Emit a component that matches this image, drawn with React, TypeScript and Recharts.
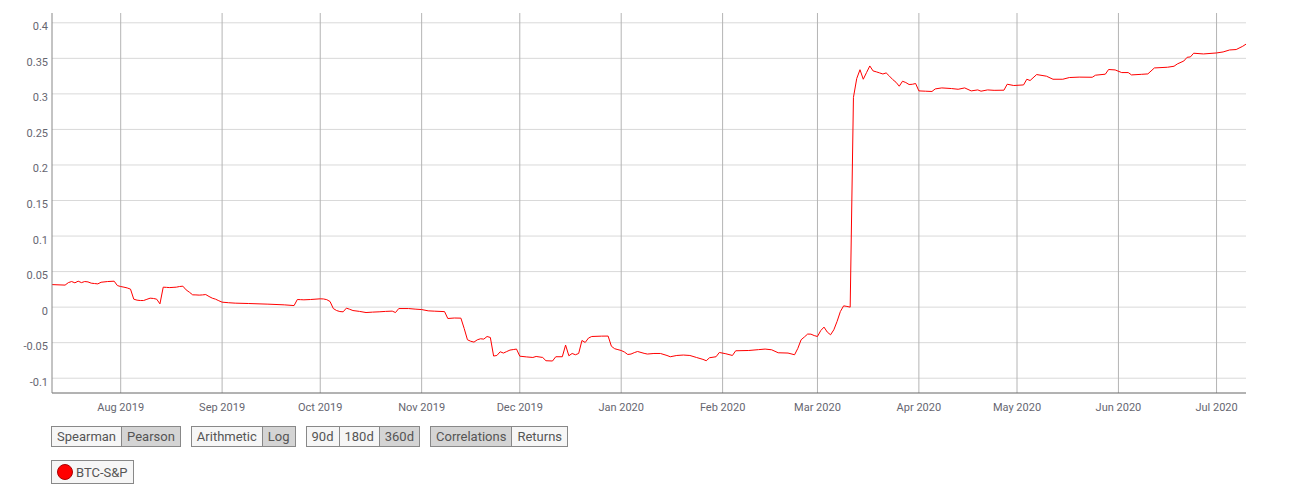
import React from 'react';
import { LineChart, Line, XAxis, YAxis, CartesianGrid } from 'recharts';

const dates = [
  '2019-07-11','2019-07-15','2019-07-16','2019-07-17','2019-07-18','2019-07-19','2019-07-20','2019-07-21','2019-07-22','2019-07-23',
  '2019-07-24','2019-07-25','2019-07-26','2019-07-28','2019-07-30','2019-07-31','2019-08-01','2019-08-02','2019-08-03','2019-08-04',
  '2019-08-05','2019-08-06','2019-08-07','2019-08-08','2019-08-09','2019-08-10','2019-08-11','2019-08-12','2019-08-13','2019-08-14',
  '2019-08-15','2019-08-16','2019-08-17','2019-08-18','2019-08-19','2019-08-20','2019-08-21','2019-08-22','2019-08-23','2019-08-24',
  '2019-08-25','2019-08-26','2019-08-27','2019-08-28','2019-08-29','2019-08-30','2019-08-31','2019-09-01','2019-09-03','2019-09-05',
  '2019-09-09','2019-09-15','2019-09-20','2019-09-23','2019-09-24','2019-09-25','2019-09-26','2019-09-28','2019-10-01','2019-10-02',
  '2019-10-03','2019-10-04','2019-10-05','2019-10-06','2019-10-07','2019-10-08','2019-10-09','2019-10-10','2019-10-11','2019-10-13',
  '2019-10-15','2019-10-17','2019-10-19','2019-10-21','2019-10-23','2019-10-24','2019-10-25','2019-10-28','2019-10-30','2019-11-01',
  '2019-11-03','2019-11-05','2019-11-08','2019-11-09','2019-11-11','2019-11-13','2019-11-14','2019-11-15','2019-11-16','2019-11-17',
  '2019-11-18','2019-11-19','2019-11-20','2019-11-21','2019-11-22','2019-11-23','2019-11-24','2019-11-25','2019-11-26','2019-11-27',
  '2019-11-28','2019-11-29','2019-11-30','2019-12-01','2019-12-03','2019-12-05','2019-12-06','2019-12-08','2019-12-09','2019-12-11',
  '2019-12-12','2019-12-14','2019-12-15','2019-12-16','2019-12-17','2019-12-18','2019-12-19','2019-12-20','2019-12-21','2019-12-22',
  '2019-12-23','2019-12-26','2019-12-28','2019-12-29','2019-12-30','2019-12-31','2020-01-01','2020-01-02','2020-01-03','2020-01-04',
  '2020-01-05','2020-01-06','2020-01-08','2020-01-09','2020-01-11','2020-01-13','2020-01-15','2020-01-16','2020-01-18','2020-01-20',
  '2020-01-22','2020-01-24','2020-01-26','2020-01-27','2020-01-28','2020-01-30','2020-01-31','2020-02-02','2020-02-04','2020-02-05',
  '2020-02-09','2020-02-12','2020-02-14','2020-02-16','2020-02-18','2020-02-21','2020-02-23','2020-02-24','2020-02-25','2020-02-26',
  '2020-02-27','2020-02-28','2020-02-29','2020-03-01','2020-03-02','2020-03-03','2020-03-04','2020-03-05','2020-03-06','2020-03-07',
  '2020-03-08','2020-03-09','2020-03-10','2020-03-11','2020-03-12','2020-03-13','2020-03-14','2020-03-15','2020-03-16','2020-03-17',
  '2020-03-18','2020-03-19','2020-03-20','2020-03-21','2020-03-22','2020-03-23','2020-03-24','2020-03-25','2020-03-26','2020-03-27',
  '2020-03-28','2020-03-29','2020-03-30','2020-03-31','2020-04-01','2020-04-03','2020-04-05','2020-04-06','2020-04-08','2020-04-11',
  '2020-04-13','2020-04-15','2020-04-17','2020-04-19','2020-04-20','2020-04-22','2020-04-24','2020-04-27','2020-04-28','2020-04-30',
  '2020-05-03','2020-05-04','2020-05-05','2020-05-07','2020-05-10','2020-05-12','2020-05-15','2020-05-17','2020-05-20','2020-05-24',
  '2020-05-25','2020-05-28','2020-05-29','2020-05-31','2020-06-02','2020-06-04','2020-06-05','2020-06-08','2020-06-10','2020-06-12',
  '2020-06-16','2020-06-18','2020-06-19','2020-06-21','2020-06-22','2020-06-23','2020-06-24','2020-06-27','2020-07-01','2020-07-03',
  '2020-07-05','2020-07-07','2020-07-09','2020-07-10',
];

const btcSpCorr = [
  0.0317,0.031,0.0345,0.036,0.0342,0.0365,0.0345,0.036,0.0355,0.0337,
  0.0332,0.0327,0.035,0.036,0.0365,0.0303,0.029,0.0281,0.027,0.0253,
  0.0112,0.0098,0.0093,0.0093,0.011,0.0126,0.0122,0.0112,0.0046,0.0281,
  0.0278,0.0275,0.0278,0.0281,0.029,0.0295,0.0243,0.021,0.0173,0.0172,
  0.0169,0.0172,0.0177,0.015,0.0126,0.0112,0.009,0.007,0.0062,0.0056,
  0.0051,0.0042,0.0032,0.0022,0.0107,0.0105,0.0103,0.0107,0.0117,0.0115,
  0.0105,0.0079,-0.002,-0.0048,-0.0062,-0.0066,-0.0014,-0.003,-0.0048,-0.006,
  -0.0076,-0.007,-0.0066,-0.006,-0.0056,-0.0076,-0.002,-0.002,-0.0028,-0.0034,
  -0.0052,-0.0057,-0.0063,-0.016,-0.0153,-0.0155,-0.03,-0.0459,-0.048,-0.0492,
  -0.046,-0.0445,-0.045,-0.0413,-0.0427,-0.0688,-0.068,-0.0628,-0.0646,-0.0625,
  -0.0604,-0.0597,-0.059,-0.069,-0.07,-0.0708,-0.0694,-0.0708,-0.0754,-0.0758,
  -0.0698,-0.0698,-0.0534,-0.0684,-0.0652,-0.067,-0.0652,-0.0469,-0.0497,-0.0435,
  -0.0413,-0.0408,-0.0407,-0.055,-0.0585,-0.0598,-0.061,-0.0632,-0.0666,-0.066,
  -0.064,-0.0624,-0.065,-0.066,-0.0652,-0.0652,-0.068,-0.0698,-0.068,-0.0674,
  -0.068,-0.0708,-0.0735,-0.0754,-0.0712,-0.0698,-0.0638,-0.0656,-0.068,-0.0614,
  -0.061,-0.0598,-0.059,-0.06,-0.0642,-0.0646,-0.067,-0.058,-0.0459,-0.042,
  -0.0379,-0.038,-0.04,-0.0413,-0.033,-0.0281,-0.0351,-0.0389,-0.0319,-0.02,
  -0.0062,0.0018,0.001,0.0,0.295,0.3216,0.334,0.3206,0.33,0.3393,
  0.3323,0.331,0.3295,0.328,0.3295,0.325,0.3202,0.3164,0.3108,0.3178,
  0.316,0.3132,0.3135,0.3146,0.3042,0.3038,0.3034,0.307,0.3084,0.3075,
  0.3065,0.3084,0.3042,0.3056,0.3038,0.3056,0.305,0.3052,0.3136,0.3118,
  0.3126,0.3206,0.3188,0.3272,0.3249,0.3206,0.3206,0.323,0.3236,0.3234,
  0.3263,0.3277,0.3343,0.3337,0.33,0.33,0.3267,0.3275,0.3281,0.3365,
  0.3375,0.3389,0.3421,0.3463,0.3515,0.352,0.3572,0.3562,0.3576,0.359,
  0.3618,0.3624,0.367,0.37,
];

const monthTicks = [
  '2019-08-01','2019-09-01','2019-10-01','2019-11-01','2019-12-01','2020-01-01',
  '2020-02-01','2020-03-01','2020-04-01','2020-05-01','2020-06-01','2020-07-01',
];
const monthLabels = [
  'Aug 2019','Sep 2019','Oct 2019','Nov 2019','Dec 2019','Jan 2020',
  'Feb 2020','Mar 2020','Apr 2020','May 2020','Jun 2020','Jul 2020',
];

const yTicks = [-0.1, -0.05, 0, 0.05, 0.1, 0.15, 0.2, 0.25, 0.3, 0.35, 0.4];
const yLabels = ['-0.1', '-0.05', '0', '0.05', '0.1', '0.15', '0.2', '0.25', '0.3', '0.35', '0.4'];
const yDomain = [-0.1208, 0.4138];

const buttonGroups = [
  ['Spearman', 'Pearson'],
  ['Arithmetic', 'Log'],
  ['90d', '180d', '360d'],
  ['Correlations', 'Returns'],
];
const selectedButtons = ['Pearson', 'Log', '360d', 'Correlations'];

const seriesName = 'BTC-S&P';

const toTs = (s: string) => Date.parse(s + 'T00:00:00Z');

const data = dates.map((d, i) => ({ t: toTs(d), v: btcSpCorr[i] }));
const xTicks = monthTicks.map(toTs);
const labelFor = (ts: number) => {
  const i = xTicks.indexOf(ts);
  return i >= 0 ? monthLabels[i] : '';
};
const yLabelFor = (v: number) => {
  const i = yTicks.findIndex((t) => Math.abs(t - v) < 1e-9);
  return i >= 0 ? yLabels[i] : String(v);
};

const FONT = 'Roboto, "Noto Sans", sans-serif';

const YTick = (props: any) => {
  const { x, y, payload } = props;
  return (
    <text x={x} y={y + 4} textAnchor="end" dominantBaseline="central" fill="#666670" fontSize={11} fontFamily={FONT}>
      {yLabelFor(payload.value)}
    </text>
  );
};

const XTick = (props: any) => {
  const { x, y, payload } = props;
  return (
    <text x={x} y={y + 14} textAnchor="middle" dominantBaseline="central" fill="#666670" fontSize={11} fontFamily={FONT}>
      {labelFor(payload.value)}
    </text>
  );
};

export default function App() {
  return (
    <div style={{ position: 'absolute', left: 0, top: 0, width: 1293, height: 491, background: '#fff', fontFamily: FONT }}>
      <LineChart width={1293} height={420} data={data} margin={{ top: 13, right: 47, bottom: 0, left: 0 }}>
        <CartesianGrid vertical={false} stroke="#d9d9d9" horizontalValues={yTicks} />
        <CartesianGrid horizontal={false} stroke="#b4b4b4" verticalValues={xTicks} />
        <XAxis
          dataKey="t"
          type="number"
          scale="time"
          domain={['dataMin', 'dataMax']}
          ticks={xTicks}
          height={27}
          tickLine={false}
          tickSize={0}
          tickMargin={0}
          axisLine={{ stroke: '#666', strokeWidth: 1 }}
          tick={<XTick />}
          interval={0}
        />
        <YAxis
          type="number"
          domain={yDomain}
          ticks={yTicks}
          width={52}
          tickLine={false}
          tickSize={4}
          tickMargin={0}
          axisLine={{ stroke: '#888', strokeWidth: 1 }}
          tick={<YTick />}
          interval={0}
          allowDataOverflow
        />
        <Line type="linear" dataKey="v" stroke="#ff0000" strokeWidth={1} dot={false} isAnimationActive={false} />
      </LineChart>
      <div style={{ position: 'absolute', left: 51, top: 426, display: 'flex', gap: 10 }}>
        {buttonGroups.map((g, gi) => (
          <div key={gi} style={{ display: 'flex', border: '1px solid #888', height: 21, boxSizing: 'border-box' }}>
            {g.map((b, bi) => (
              <div
                key={b}
                style={{
                  padding: '0 5px',
                  fontSize: 13,
                  lineHeight: '19px',
                  color: '#555',
                  background: selectedButtons.includes(b) ? '#d4d4d4' : '#f6f6f6',
                  borderLeft: bi > 0 ? '1px solid #888' : 'none',
                }}
              >
                {b}
              </div>
            ))}
          </div>
        ))}
      </div>
      <div
        style={{
          position: 'absolute',
          left: 51,
          top: 460,
          height: 24,
          boxSizing: 'border-box',
          border: '1px solid #888',
          background: '#f6f6f6',
          display: 'flex',
          alignItems: 'center',
          padding: '0 5px 0 5px',
        }}
      >
        <span
          style={{
            width: 14,
            height: 14,
            borderRadius: '50%',
            background: '#ff0000',
            border: '1px solid #a00',
            display: 'inline-block',
            marginRight: 3,
          }}
        />
        <span style={{ fontSize: 13, color: '#555' }}>{seriesName}</span>
      </div>
    </div>
  );
}
